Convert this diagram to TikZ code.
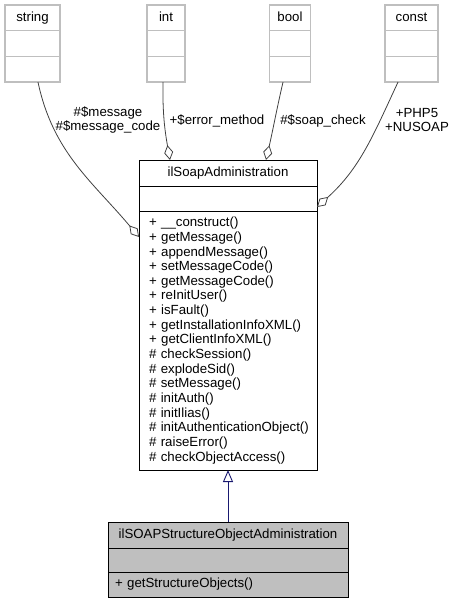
\documentclass[tikz,border=0pt]{standalone}
\usepackage{fontspec}
\setmainfont{Liberation Sans}
\usepackage{tikz}
\usetikzlibrary{arrows.meta,positioning}
\definecolor{boxgray}{RGB}{191,191,191}
\definecolor{edgegray}{RGB}{64,64,64}
\definecolor{inhblue}{RGB}{25,25,112}
\tikzset{
row/.style={draw=black, line width=0.9bp, inner sep=0pt, outer sep=0pt, font=\fontsize{13.3}{14.7}\selectfont},
titlerow/.style={row, text height=9.6bp, text depth=2.8bp},
extrow/.style={titlerow, draw=boxgray, line width=1.4bp, minimum height=25.7bp},
aggr/.style={draw=edgegray, line width=0.8bp, -{Diamond[open, length=15bp, width=9bp, line width=0.8bp]}},
inherit/.style={draw=inhblue, line width=0.9bp, -{Triangle[open, length=12bp, width=10bp, line width=0.9bp]}},
lbl/.style={font=\fontsize{13.3}{14}\selectfont, align=center, inner sep=0pt}
}
\begin{document}
\begin{tikzpicture}[x=1bp,y=1bp]
\useasboundingbox (0,0) rectangle (457,-604);
\node[extrow, minimum width=55bp] (str1) at (32.5,-17.85) {string};
\node[extrow, minimum width=55bp, below=0pt of str1] (str2) {};
\node[extrow, minimum width=55bp, below=0pt of str2] (str3) {};
\node[extrow, minimum width=38bp] (int1) at (166,-17.85) {int};
\node[extrow, minimum width=38bp, below=0pt of int1] (int2) {};
\node[extrow, minimum width=38bp, below=0pt of int2] (int3) {};
\node[extrow, minimum width=41bp] (bool1) at (290,-17.85) {bool};
\node[extrow, minimum width=41bp, below=0pt of bool1] (bool2) {};
\node[extrow, minimum width=41bp, below=0pt of bool2] (bool3) {};
\node[extrow, minimum width=53bp] (const1) at (411.5,-17.85) {const};
\node[extrow, minimum width=53bp, below=0pt of const1] (const2) {};
\node[extrow, minimum width=53bp, below=0pt of const2] (const3) {};
\node[titlerow, minimum width=178bp, minimum height=26bp] (adm1) at (228,-173) {ilSoapAdministration};
\node[row, minimum width=178bp, minimum height=25bp, below=0pt of adm1] (adm2) {};
\node[row, text width=158bp, inner xsep=10bp, minimum height=259bp, align=left, below=0pt of adm2] (adm3) {\mbox{+ \_\_construct()}\\\mbox{+ getMessage()}\\\mbox{+ appendMessage()}\\\mbox{+ setMessageCode()}\\\mbox{+ getMessageCode()}\\\mbox{+ reInitUser()}\\\mbox{+ isFault()}\\\mbox{+ getInstallationInfoXML()}\\\mbox{+ getClientInfoXML()}\\\mbox{\# checkSession()}\\\mbox{\# explodeSid()}\\\mbox{\# setMessage()}\\\mbox{\# initAuth()}\\\mbox{\# initIlias()}\\\mbox{\# initAuthenticationObject()}\\\mbox{\# raiseError()}\\\mbox{\# checkObjectAccess()}};
\node[titlerow, fill=boxgray, minimum width=240bp, minimum height=26bp] (sto1) at (228,-535) {ilSOAPStructureObjectAdministration};
\node[row, fill=boxgray, minimum width=240bp, minimum height=24bp, below=0pt of sto1] (sto2) {};
\node[titlerow, fill=boxgray, text width=226bp, inner xsep=7bp, minimum height=25bp, align=left, below=0pt of sto2] (sto3) {+ getStructureObjects()};
\draw[aggr] ([xshift=5.5bp]str3.south) to [out=-78,in=130] ([yshift=-26bp]adm3.north west);
\draw[aggr] ([xshift=-3bp]int3.south) to [out=-91,in=100] ([xshift=-58bp]adm1.north);
\draw[aggr] ([xshift=-7bp]bool3.south) to [out=-103,in=77] ([xshift=38bp]adm1.north);
\draw[aggr] ([xshift=-13.5bp]const3.south) to [out=-115,in=42] ([yshift=-8.5bp]adm2.east);
\node[lbl] (lmsg) at (108,-120) {\#\$message\\\#\$message\_code};
\node[lbl] (lerr) at (217,-121) {+\$error\_method};
\node[lbl] (lsoap) at (323,-121) {\#\$soap\_check};
\node[lbl] (lphp) at (417,-120) {+PHP5\\+NUSOAP};
\draw[inherit] (sto1.north) -- (adm3.south);
\end{tikzpicture}
\end{document}
